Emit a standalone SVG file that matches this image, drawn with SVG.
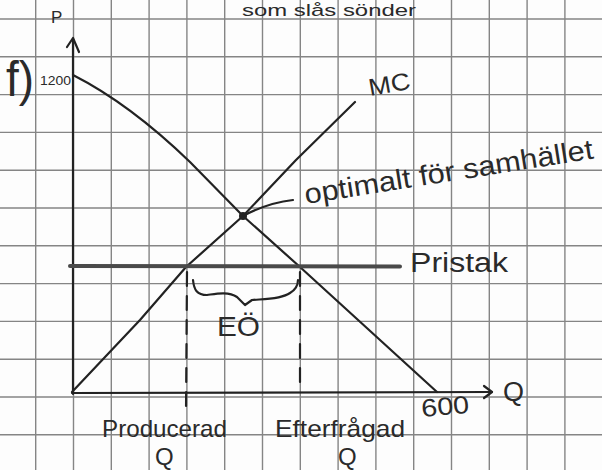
<svg xmlns="http://www.w3.org/2000/svg" width="602" height="470" viewBox="0 0 602 470">
<defs>
<style>
.grid{stroke:#858585;stroke-width:1.4;fill:none}
.ink{stroke:#222;stroke-width:2.2;fill:none;stroke-linecap:round;stroke-linejoin:round}
.txt{font-family:"Liberation Sans","DejaVu Sans",sans-serif;fill:#2a2a2a}
</style>
</defs>
<rect x="0" y="0" width="602" height="470" fill="#fdfdfd"/>
<g id="grid" class="grid">
<path d="M35.7,0V470M73.5,0V470M111.3,0V470M149.1,0V470M186.9,0V470M224.7,0V470M262.5,0V470M300.3,0V470M338.1,0V470M375.9,0V470M413.7,0V470M451.5,0V470M489.3,0V470M527.1,0V470M564.9,0V470"/>
<path d="M0,19H602M0,56.8H602M0,94.6H602M0,132.4H602M0,170.2H602M0,208H602M0,245.8H602M0,283.6H602M0,321.4H602M0,359.2H602M0,397H602M0,434.8H602"/>
</g>
<g id="axes" class="ink">
<path d="M73,394 L73,39"/>
<path d="M67,47 L73,38 L79,52"/>
<path d="M72,393 L492,392"/>
<path d="M484,386 L492,392 L484,398"/>
</g>
<g id="connectors">
<path id="demand" class="ink" d="M73,75 Q130,104 190,162 L243,216 L300,267 L437,392"/>
<path id="mc" class="ink" d="M72,392 L140,320 L186,267 L243,216 L296,160 L355,102"/>
<path id="pristak" d="M70,266 L400,266.5" stroke="#4a4a4a" stroke-width="4" fill="none" stroke-linecap="round"/>
<path id="dash-produced" class="ink" d="M187,272 L186,414" stroke-dasharray="14 10" stroke-width="1.8"/>
<path id="dash-demanded" class="ink" d="M300,272 L300,392" stroke-dasharray="14 10" stroke-width="1.8"/>
<path id="brace" class="ink" d="M193,280 C194,290 197,295 207,295 C215,294 228,291 237,297 L245,305 L252,300 C260,299 280,300 290,293 C295,290 298,286 298,280" stroke-width="2"/>
<path id="leader" class="ink" d="M243,216 C258,208 275,202 293,200"/>
<circle cx="243" cy="216" r="4" fill="#222"/>
</g>
<g id="labels" class="txt">
<text x="242" y="16" font-size="17" textLength="174" lengthAdjust="spacingAndGlyphs">som slås sönder</text>
<text x="51" y="23" font-size="17">P</text>
<text x="6" y="96" font-size="50" textLength="28" lengthAdjust="spacingAndGlyphs">f)</text>
<text x="40" y="85" font-size="12" textLength="31" lengthAdjust="spacingAndGlyphs">1200</text>
<text x="370" y="96" font-size="24" textLength="42" lengthAdjust="spacingAndGlyphs" transform="rotate(-10 370 96)">MC</text>
<text x="306" y="204" font-size="28" textLength="292" lengthAdjust="spacingAndGlyphs" transform="rotate(-9 306 204)">optimalt för samhället</text>
<text x="410" y="272" font-size="27" textLength="98" lengthAdjust="spacingAndGlyphs">Pristak</text>
<text x="217" y="336" font-size="28" textLength="43" lengthAdjust="spacingAndGlyphs">EÖ</text>
<text x="422" y="417" font-size="25" textLength="48" lengthAdjust="spacingAndGlyphs" transform="rotate(-5 422 417)">600</text>
<text x="503" y="401" font-size="27">Q</text>
<text x="102" y="437" font-size="24" textLength="125" lengthAdjust="spacingAndGlyphs">Producerad</text>
<text x="155" y="465" font-size="24">Q</text>
<text x="275" y="437" font-size="24" textLength="130" lengthAdjust="spacingAndGlyphs">Efterfrågad</text>
<text x="338" y="465" font-size="24">Q</text>
</g>
</svg>
